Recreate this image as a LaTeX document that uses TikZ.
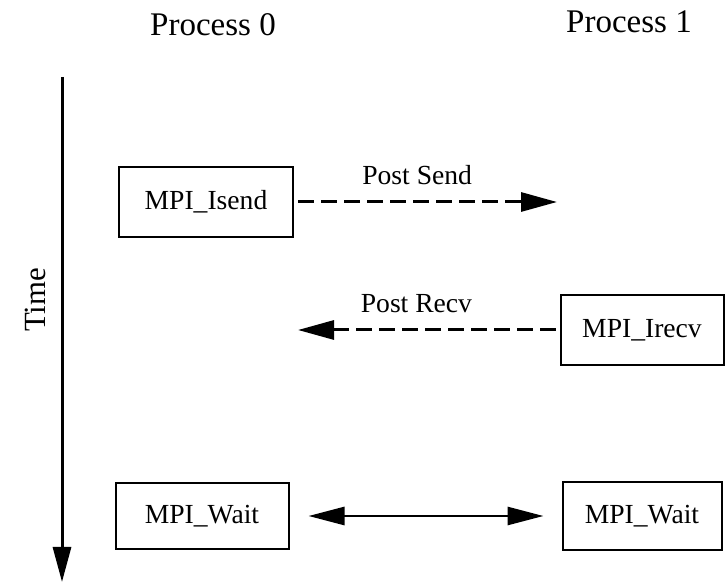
\documentclass[tikz,border=0pt]{standalone}
\usepackage{fontspec}
\setmainfont{Liberation Serif}
\usetikzlibrary{arrows.meta}

\tikzset{
  callbox/.style={draw,line width=1pt,inner sep=0pt,font=\fontsize{13.8}{16}\selectfont},
  msg/.style={line width=1.5pt,dash pattern=on 8pt off 3.5pt,-{Triangle[length=18pt,width=9.5pt]}},
  msglabel/.style={font=\fontsize{13.8}{16}\selectfont},
}

\begin{document}
\begin{tikzpicture}[x=0.5pt,y=-0.5pt]
  \useasboundingbox (0,0) rectangle (725,583);
  \node[font=\fontsize{16.5}{20}\selectfont] (proc0) at (213,25) {Process 0};
  \node[font=\fontsize{16.5}{20}\selectfont] (proc1) at (629,22) {Process 1};
  \coordinate (ttop) at (62,77);
  \coordinate (tbot) at (62,582);
  \draw[line width=1.5pt,-{Triangle[length=17.5pt,width=9pt]}] (ttop) -- (tbot);
  \node[rotate=90,font=\fontsize{15.4}{18}\selectfont] (time) at (35,300) {Time};
  \node[callbox,minimum width=87pt,minimum height=35pt] (isend) at (206,202) {MPI\_Isend};
  \node[callbox,minimum width=81.5pt,minimum height=35pt] (irecv) at (642,330) {MPI\_Irecv};
  \node[callbox,minimum width=86.5pt,minimum height=33pt] (waitl) at (202,516) {MPI\_Wait};
  \node[callbox,minimum width=79.5pt,minimum height=34pt] (waitr) at (642,516) {MPI\_Wait};
  \coordinate (sendend) at (557,202);
  \coordinate (recvend) at (298,330);
  \draw[msg] ([xshift=2pt]isend.east) -- (sendend) node[msglabel,pos=0.46,above=4.5pt] {Post Send};
  \draw[msg] ([xshift=-2pt]irecv.west) -- (recvend) node[msglabel,pos=0.54,above=4.5pt] {Post Recv};
  \draw[line width=1.4pt,{Triangle[length=18pt,width=9pt]}-{Triangle[length=18pt,width=9pt]},shorten <=9.5pt,shorten >=9pt] (waitl) -- (waitr);
\end{tikzpicture}
\end{document}
